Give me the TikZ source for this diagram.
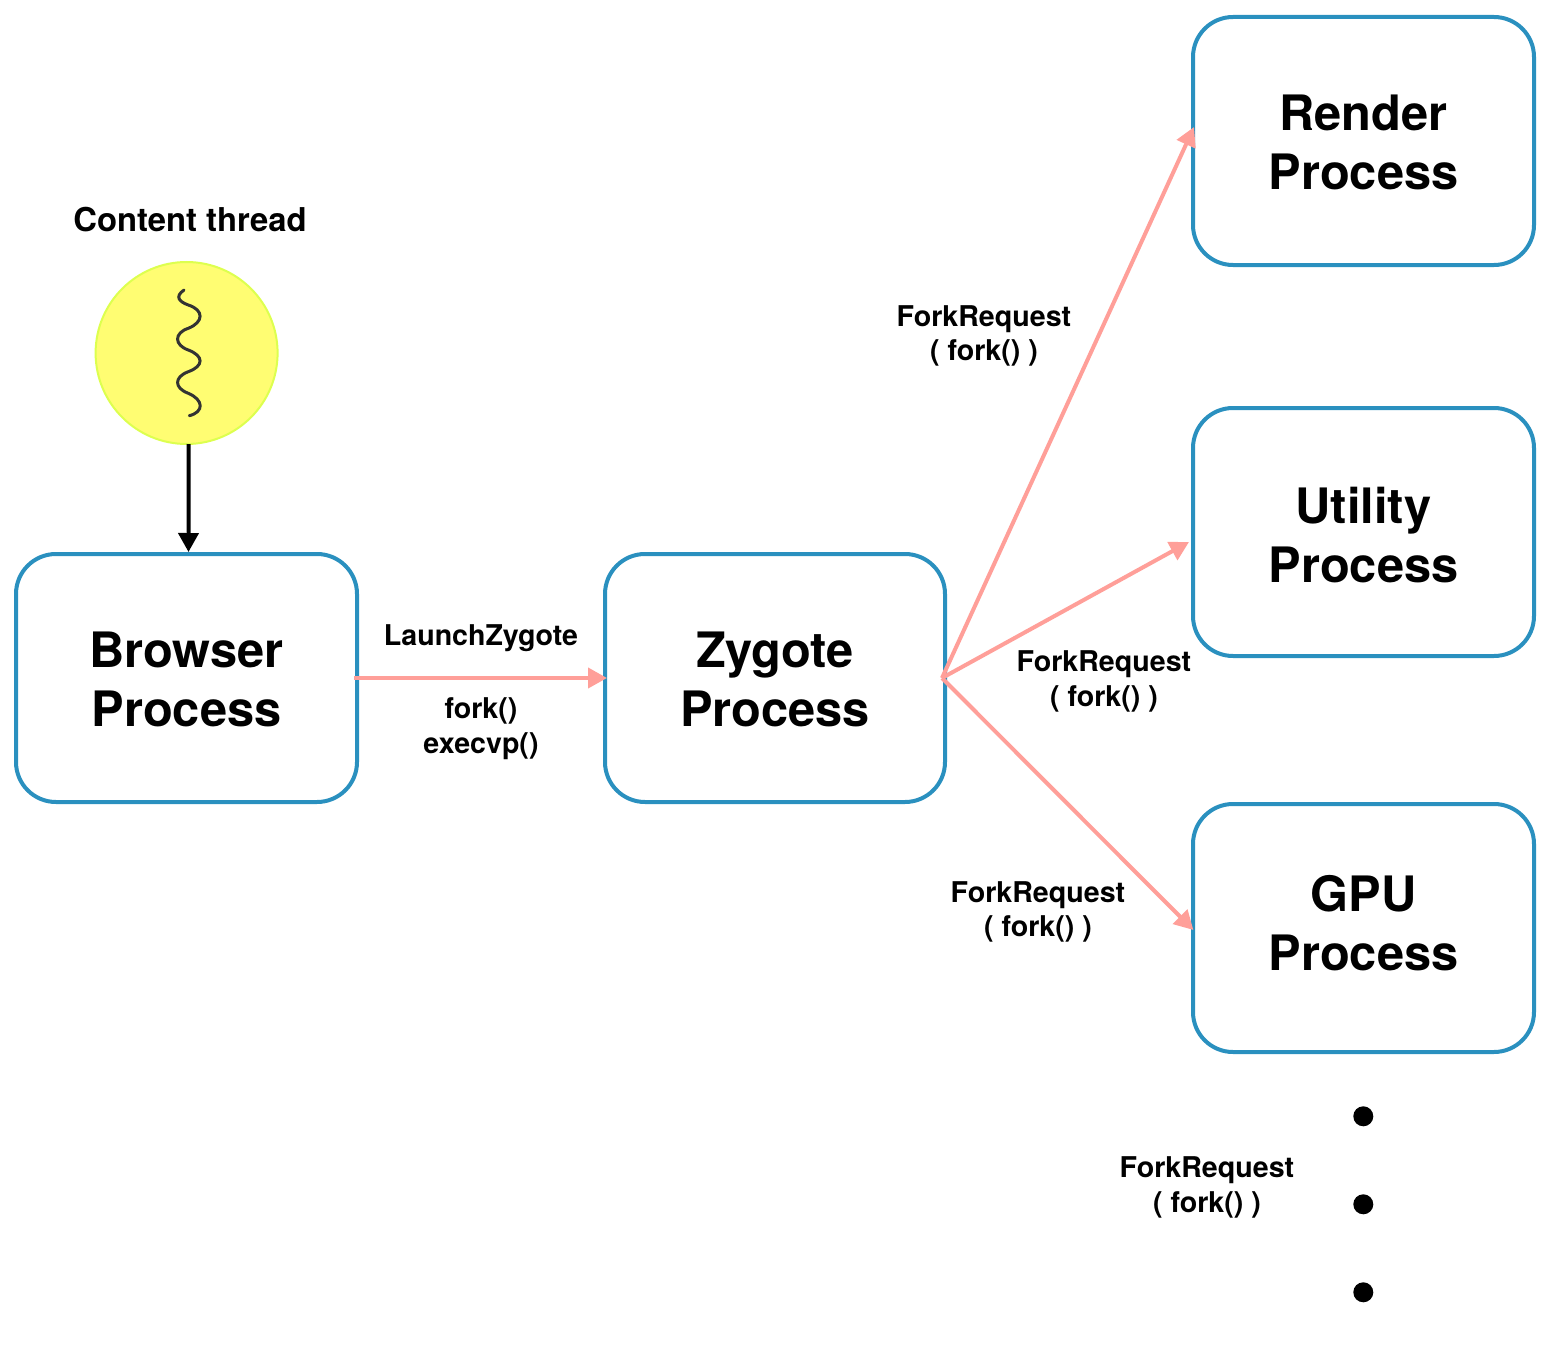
\documentclass[tikz,border=0pt]{standalone}
\usepackage{fontspec}
\setmainfont{TeX Gyre Heros}
\usetikzlibrary{arrows.meta}
\definecolor{boxblue}{HTML}{2A90BF}
\definecolor{forkpink}{HTML}{FF9F99}
\definecolor{threadfill}{HTML}{FFFD72}
\definecolor{threadline}{HTML}{DDFF4F}
\tikzset{
    procbox/.style={draw=boxblue, line width=2pt, rounded corners=20pt, minimum width=170.5pt, minimum height=124pt, outer sep=0pt, align=center, text depth=0pt, font=\fontsize{24.4}{29.5}\selectfont\bfseries},
    forklabel/.style={align=center, inner sep=0pt, font=\fontsize{14.3}{17.2}\selectfont\bfseries},
    forkarrow/.style={draw=forkpink, line width=2pt, -{Triangle[width=10pt,length=9.5pt]}},
    dotmark/.style={circle, fill=black, minimum size=10pt, inner sep=0pt}
}

\begin{document}
\begin{tikzpicture}[x=0.5pt, y=-0.5pt]
    % Fix the page to the size of the reference
    \useasboundingbox (0,0) rectangle (1560,1354);

    % Content thread
    \node[inner sep=0pt, font=\fontsize{16.4}{20}\selectfont\bfseries] (threadlabel) at (190,220) {Content thread};
    \node[circle, fill=threadfill, draw=threadline, line width=1pt, minimum size=91pt, inner sep=0pt, outer sep=0pt] (thread) at (186.6,353) {};
    \draw[line width=1.5pt, draw=black!80, line cap=round] (184,290)
        .. controls (174,297) and (180,302) .. (188.3,305)
        .. controls (204,310) and (204,322) .. (188.3,328.3)
        .. controls (174,333) and (174,345) .. (188.3,350)
        .. controls (204,356) and (204,366) .. (188.3,371.7)
        .. controls (174,377) and (174,388) .. (188.3,393.3)
        .. controls (204,400) and (204,412) .. (189.3,415.7);

    % Processes
    \node[procbox, text height=48pt] (browser) at (186.5,678) {Browser\\Process};
    \node[procbox, text height=48pt, minimum width=170pt] (zygote) at (775,678) {Zygote\\Process};
    \node[procbox, text height=49pt] (render) at (1363.5,141) {Render\\Process};
    \node[procbox, text height=50pt] (utility) at (1363.5,532) {Utility\\Process};
    \node[procbox, text height=42pt] (gpu) at (1363.5,928) {GPU\\Process};

    % Connectors
    \draw[line width=2pt, -{Triangle[width=10pt,length=9.5pt]}] ([xshift=1pt]thread.south) -- ([xshift=1pt,yshift=1pt]browser.north);
    \draw[forkarrow] ([xshift=-1.5pt]browser.east) -- ([xshift=1pt]zygote.west);
    \coordinate (forkout) at (942,678);
    \draw[forkarrow] (forkout) -- ([xshift=0.5pt,yshift=7pt]render.west);
    \draw[forkarrow] (forkout) -- ([xshift=-2pt,yshift=-5pt]utility.west);
    \draw[forkarrow] (forkout) -- ([xshift=0.2pt,yshift=-1pt]gpu.west);

    % Labels
    \node[forklabel] (launchlabel) at (481,638.5) {LaunchZygote};
    \node[forklabel] (execlabel) at (481,728.5) {fork()\\execvp()};
    \node[forklabel] (renderlabel) at (984,336) {ForkRequest\\( fork() )};
    \node[forklabel] (utilitylabel) at (1104,681.5) {ForkRequest\\( fork() )};
    \node[forklabel] (gpulabel) at (1038,912) {ForkRequest\\( fork() )};
    \node[forklabel] (morelabel) at (1207,1187.5) {ForkRequest\\( fork() )};

    % More processes
    \node[dotmark] (dota) at (1363.3,1116.3) {};
    \node[dotmark] (dotb) at (1363.3,1204.3) {};
    \node[dotmark] (dotc) at (1363.3,1292.3) {};
\end{tikzpicture}
\end{document}
